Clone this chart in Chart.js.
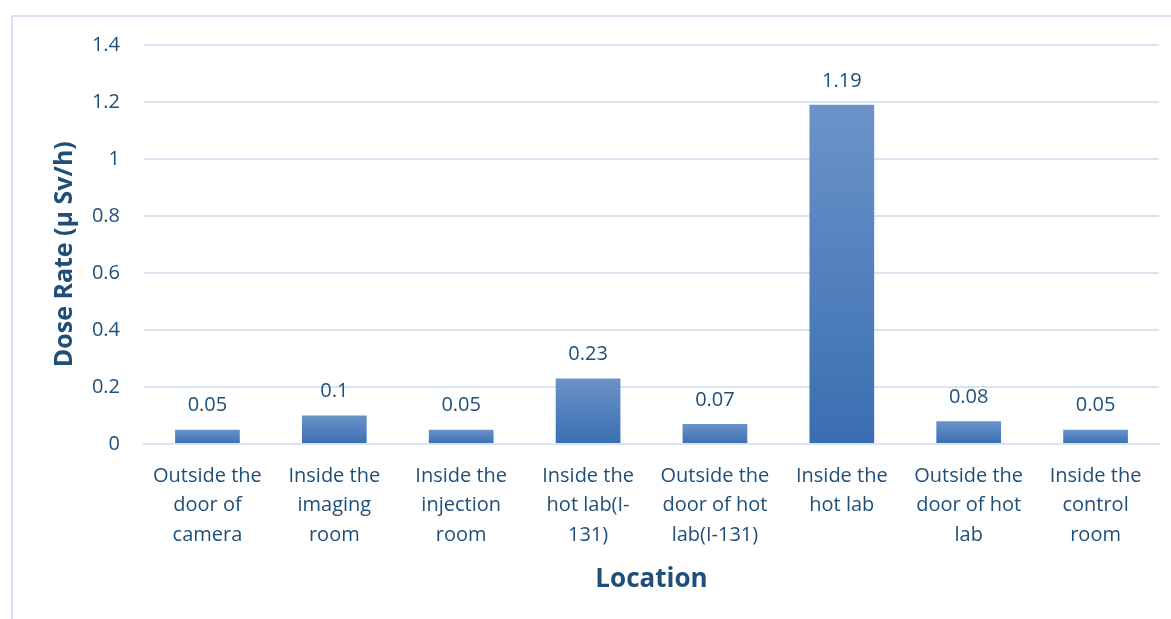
<!DOCTYPE html>
<html lang="en">
<head>
    <meta charset="UTF-8">
    <title>Dose Rate by Location</title>
    <script src="https://cdn.jsdelivr.net/npm/chart.js"></script>
    <style>
        body {
            margin: 0;
            background-color: #ffffff;
            overflow: hidden;
        }
        #marco {
            position: absolute;
            left: 11px;
            top: 15px;
            width: 1200px;
            height: 700px;
            border: 2px solid #d6e2f3;
        }
        #grafico {
            position: absolute;
            left: 0;
            top: 0;
        }
    </style>
</head>
<body>
    <div id="marco"></div>
    <canvas id="grafico" width="1171" height="619"></canvas>

    <script>
        // datos
        const ubicaciones = [
            ["Outside the", "door of", "camera"],
            ["Inside the", "imaging", "room"],
            ["Inside the", "injection", "room"],
            ["Inside the", "hot lab(I-", "131)"],
            ["Outside the", "door of hot", "lab(I-131)"],
            ["Inside the", "hot lab"],
            ["Outside the", "door of hot", "lab"],
            ["Inside the", "control", "room"]
        ];
        const tasaDosis = [0.05, 0.1, 0.05, 0.23, 0.07, 1.19, 0.08, 0.05];
        const ticksY = [0, 0.2, 0.4, 0.6, 0.8, 1, 1.2, 1.4];

        const azulTexto = "#1f4e79";
        const fuente = "'Open Sans', Lato, sans-serif";

        // degradado por barra, de claro arriba a oscuro abajo
        function degradado(context) {
            const chart = context.chart;
            const y = chart.scales.y;
            if (!y || context.dataIndex === undefined) return "#4a7cbd";
            const v = context.dataset.data[context.dataIndex];
            const top = y.getPixelForValue(v);
            const base = y.getPixelForValue(0);
            if (!isFinite(top) || !isFinite(base) || top === base) return "#4a7cbd";
            const g = chart.ctx.createLinearGradient(0, top, 0, base);
            g.addColorStop(0, "#6b93c9");
            g.addColorStop(1, "#3a6eb1");
            return g;
        }

        const etiquetas = {
            id: "etiquetas",
            afterDatasetsDraw(chart) {
                const ctx = chart.ctx;
                const meta = chart.getDatasetMeta(0);
                ctx.save();
                ctx.fillStyle = azulTexto;
                ctx.font = "20px " + fuente;
                ctx.textAlign = "center";
                ctx.textBaseline = "middle";
                meta.data.forEach((bar, i) => {
                    ctx.fillText(String(tasaDosis[i]), bar.x, bar.y - 24);
                });
                ctx.restore();
            }
        };

        new Chart(document.getElementById("grafico"), {
            type: "bar",
            data: {
                labels: ubicaciones,
                datasets: [{
                    data: tasaDosis,
                    backgroundColor: degradado,
                    barPercentage: 0.51,
                    categoryPercentage: 1
                }]
            },
            options: {
                responsive: false,
                animation: false,
                devicePixelRatio: 1,
                layout: { padding: { top: 45, right: 12, bottom: 0, left: 0 } },
                plugins: {
                    legend: { display: false },
                    tooltip: { enabled: false }
                },
                scales: {
                    x: {
                        grid: { display: false, drawTicks: false },
                        border: { color: "#d9e4f2", width: 2 },
                        ticks: {
                            color: azulTexto,
                            font: { family: fuente, size: 20, lineHeight: 1.48 },
                            padding: 17,
                            maxRotation: 0,
                            autoSkip: false
                        },
                        title: {
                            display: true,
                            text: "Location",
                            color: azulTexto,
                            font: { family: fuente, size: 26, weight: "bold", lineHeight: 1.2 },
                            padding: { top: 0, bottom: 24 }
                        },
                        afterFit(scale) { scale.height = 175; }
                    },
                    y: {
                        min: 0,
                        max: 1.4,
                        afterBuildTicks(scale) {
                            scale.ticks = ticksY.map(v => ({ value: v }));
                        },
                        grid: { color: "#d9e4f2", lineWidth: 2, drawTicks: false },
                        border: { display: false },
                        ticks: {
                            color: azulTexto,
                            font: { family: fuente, size: 20 },
                            padding: 24,
                            callback: v => String(v)
                        },
                        title: {
                            display: true,
                            text: "Dose Rate (μ Sv/h)   ",
                            color: azulTexto,
                            font: { family: fuente, size: 25, weight: "bold", lineHeight: 1.2 },
                            padding: { top: 50, bottom: 0 }
                        },
                        afterFit(scale) { scale.width = 144; }
                    }
                }
            },
            plugins: [etiquetas]
        });
    </script>
</body>
</html>
